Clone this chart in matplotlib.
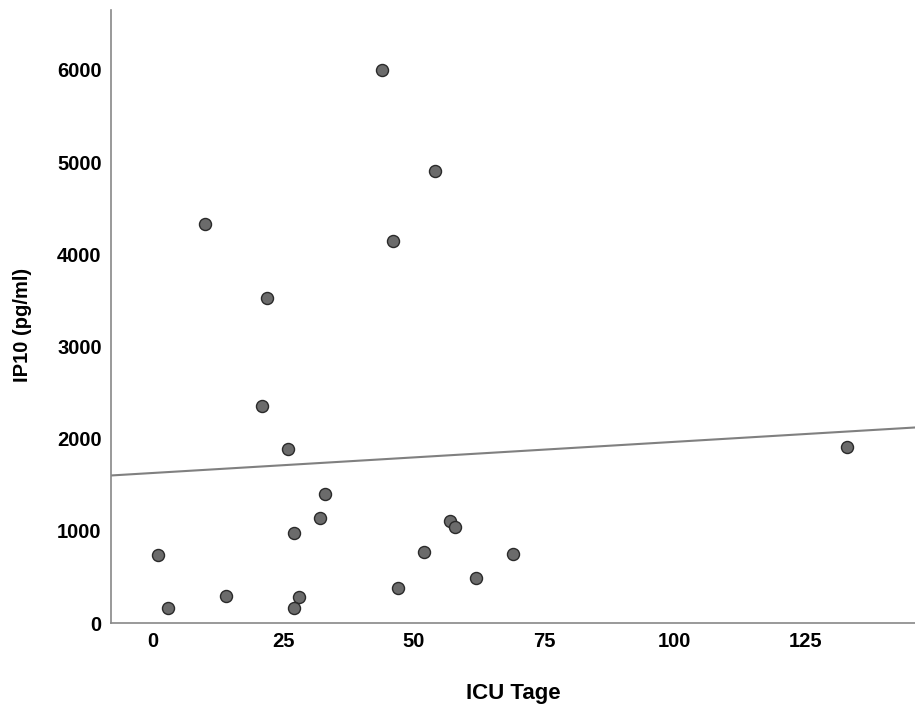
import numpy as np
import matplotlib.pyplot as plt

plt.rcParams['font.family'] = ['Liberation Sans', 'DejaVu Sans']

icuDays = [44, 54, 10, 46, 22, 21, 26, 133, 33, 32, 57, 58, 27, 1, 52, 69, 62, 47, 14, 28, 3, 27]
ip10    = [6000, 4900, 4330, 4140, 3530, 2360, 1890, 1910, 1400, 1140, 1110, 1040,
           980, 740, 770, 750, 490, 380, 300, 280, 160, 160]
xTicks = [0, 25, 50, 75, 100, 125]
yTicks = [0, 1000, 2000, 3000, 4000, 5000, 6000]

fig = plt.figure(figsize=(9.15, 7.09), dpi=100)
ax = fig.add_axes([0.121, 0.121, 0.879, 0.865])

ax.scatter(icuDays, ip10, s=75, c='#6b6b6b', edgecolors='#2a2a2a', linewidths=1.0, zorder=3)

# linear fit line
slope, intercept = np.polyfit(icuDays, ip10, 1)
xl = np.array([-8, 146])
ax.plot(xl, intercept + slope * xl, color='#808080', lw=1.5, zorder=2)

ax.set_xlim(-8, 146)
ax.set_ylim(0, 6650)
ax.set_xticks(xTicks)
ax.set_yticks(yTicks)
ax.tick_params(length=0, pad=6.5, labelsize=14.5)
for lab in ax.get_xticklabels() + ax.get_yticklabels():
    lab.set_fontweight('bold')

for s in ['top', 'right']:
    ax.spines[s].set_visible(False)
for s in ['left', 'bottom']:
    ax.spines[s].set_color('#888888')
    ax.spines[s].set_linewidth(1.2)

ax.set_xlabel('ICU Tage', fontsize=16, fontweight='bold', va='center')
ax.set_ylabel('IP10 (pg/ml)', fontsize=14.5, fontweight='bold', va='center')
ax.xaxis.set_label_coords(0.5, -0.114)
ax.yaxis.set_label_coords(-0.11, 0.486)

fig.savefig('out.png', dpi=100)
